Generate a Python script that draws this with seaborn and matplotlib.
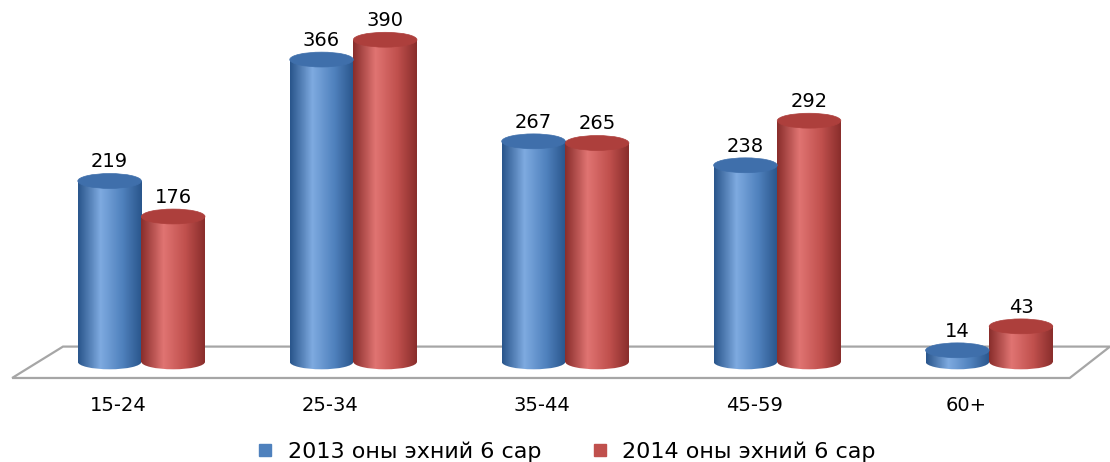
import matplotlib as mpl

mpl.use('Agg')
import numpy as np
import pandas as pd
import matplotlib.pyplot as plt
import seaborn as sns
from matplotlib.patches import Ellipse, Polygon
from matplotlib.colors import LinearSegmentedColormap
from matplotlib.lines import Line2D
from matplotlib.transforms import ScaledTranslation

# data
ages = ['15-24', '25-34', '35-44', '45-59', '60+']
h2013 = [219, 366, 267, 238, 14]
h2014 = [176, 390, 265, 292, 43]
series = ['2013 оны эхний 6 сар', '2014 оны эхний 6 сар']

df = pd.DataFrame({
    'age': ages * 2,
    'value': h2013 + h2014,
    'period': [series[0]] * len(ages) + [series[1]] * len(ages),
})

palette = {series[0]: '#4F81BD', series[1]: '#C0504D'}
# dark edge, highlight, cap colour
shade = {
    series[0]: ('#2a568c', '#7eaae0', '#3f6fab'),
    series[1]: ('#8a2e2c', '#e07472', '#ad3f3c'),
}

sns.set_theme(style='white')
plt.rcParams['font.family'] = ['DejaVu Sans']

fig = plt.figure(figsize=(11.1, 4.62), dpi=100)
ax = fig.add_axes([10 / 1110, 77 / 462, 1100 / 1110, 375 / 462])

sns.barplot(data=df, x='age', y='value', hue='period', palette=palette,
            width=0.6, order=ages, hue_order=series, ax=ax, legend=False)

xlim = (-0.62, 4.57)
ylim = (-28, 426)
cap_h = 18

# floor
floor = Polygon([(-0.61, -19.5), (-0.37, 18.5), (4.57, 18.5), (4.38, -19.5)],
                closed=True, facecolor='white', edgecolor='#a6a6a6',
                linewidth=1.6, zorder=0)
ax.add_patch(floor)

grad = np.linspace(0, 1, 64).reshape(1, -1)
for cont, name in zip(ax.containers, series):
    dark, light, cap = shade[name]
    cmap = LinearSegmentedColormap.from_list(
        name, [(0, dark), (0.35, light), (0.7, palette[name]), (1, dark)])
    for rect in cont:
        x0, w, h = rect.get_x(), rect.get_width(), rect.get_height()
        xc = x0 + w / 2
        rect.set_facecolor('none')
        rect.set_edgecolor('none')
        rect.set_zorder(2)
        base = Ellipse((xc, 0), w, cap_h, facecolor='none', edgecolor='none')
        ax.add_patch(base)
        for clip in (base, rect):
            im = ax.imshow(grad, cmap=cmap, aspect='auto', zorder=2,
                           extent=[x0, x0 + w, -cap_h, h], interpolation='bilinear')
            im.set_clip_path(clip)
        ax.add_patch(Ellipse((xc, h), w, cap_h, facecolor=cap,
                             edgecolor=cap, linewidth=0.5, zorder=3))
        ax.text(xc, h + 23, f'{int(h)}', ha='center', va='center',
                fontsize=14, color='black', zorder=4)

ax.set_xlim(*xlim)
ax.set_ylim(*ylim)
ax.set_yticks([])
ax.set_xlabel('')
ax.set_ylabel('')
ax.tick_params(axis='x', length=0, pad=8, labelsize=14, labelcolor='black')
# category labels sit a little left of the bars (3D perspective)
shift = ScaledTranslation(-0.23, 0, fig.dpi_scale_trans)
for lab in ax.get_xticklabels():
    lab.set_transform(lab.get_transform() + shift)
sns.despine(ax=ax, left=True, bottom=True)

handles = [Line2D([], [], marker='s', linestyle='none', markersize=9,
                  color=palette[s]) for s in series]
fig.legend(handles, series, loc='center', bbox_to_anchor=(0.511, 0.022),
           ncol=2, frameon=False, fontsize=16, handletextpad=0.7,
           handlelength=0.6, columnspacing=2.35, labelcolor='black')

plt.savefig('out.png', dpi=100)
